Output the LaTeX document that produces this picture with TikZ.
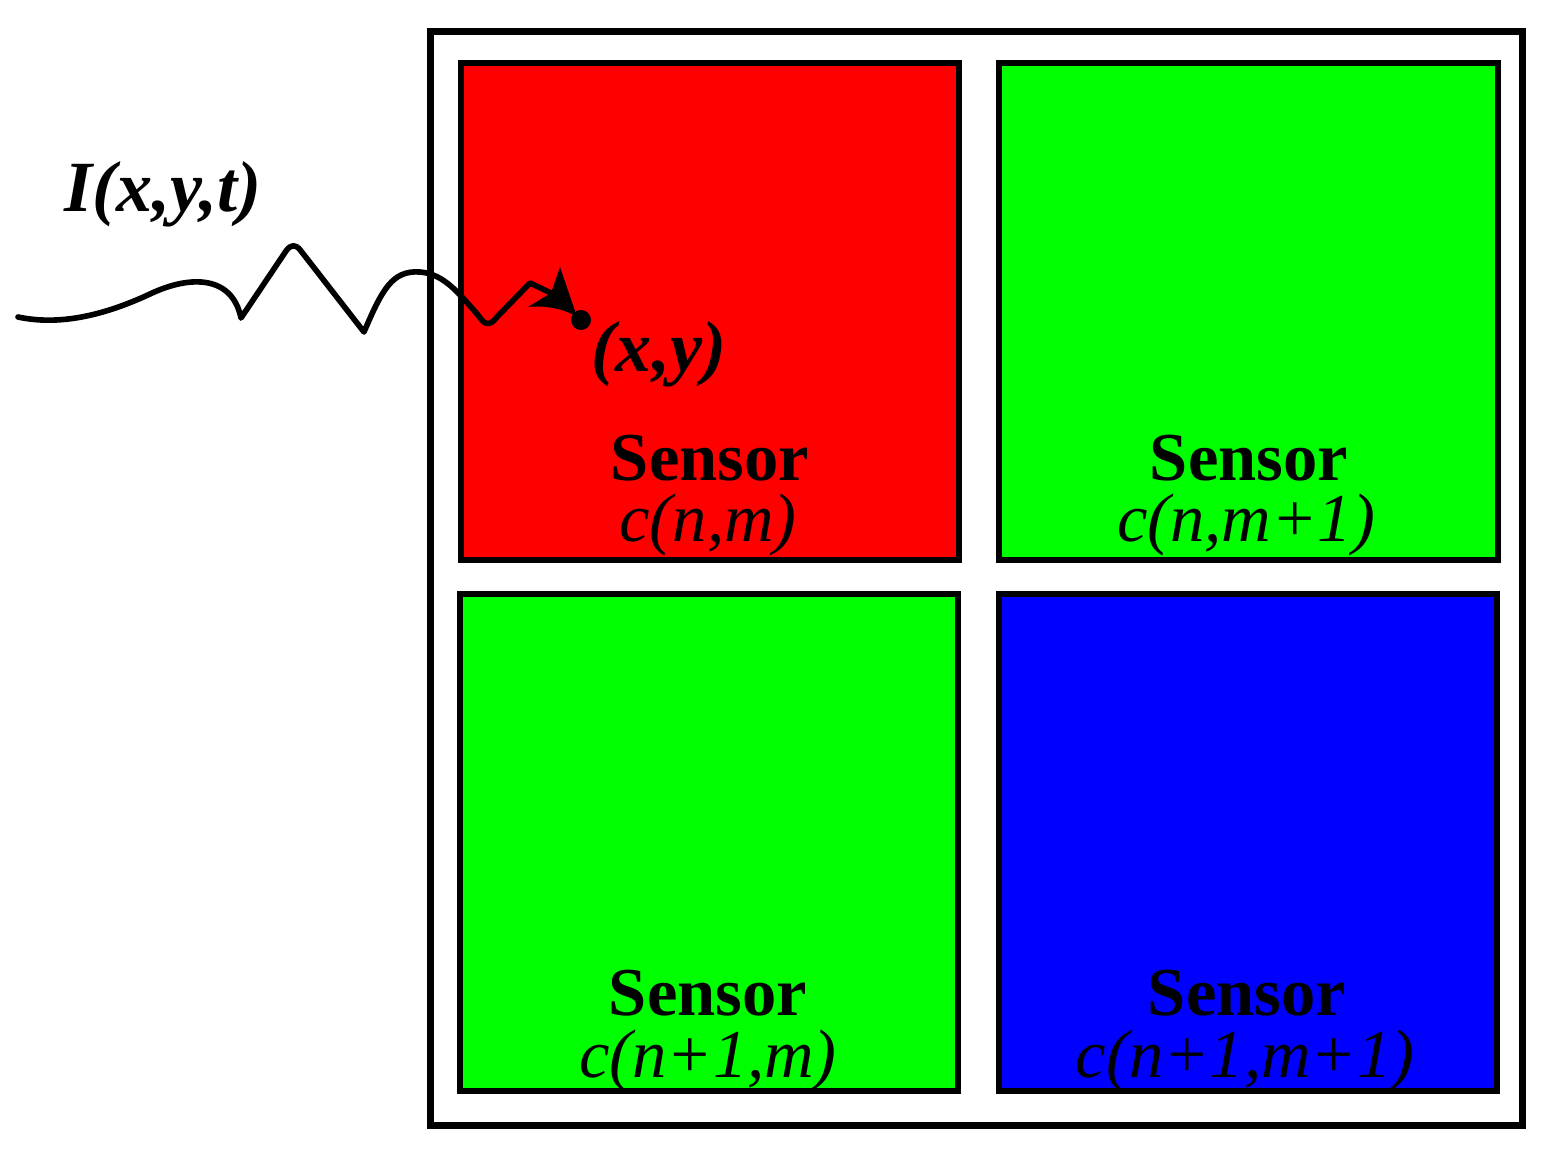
\documentclass[tikz,border=0pt]{standalone}
\usepackage{fontspec}
\setmainfont{Liberation Serif}
\definecolor{sred}{RGB}{255,0,0}
\definecolor{sgreen}{RGB}{0,255,0}
\definecolor{sblue}{RGB}{0,0,255}
\begin{document}
\begin{tikzpicture}[x=0.01cm,y=-0.01cm,
  frame/.style={draw=black, line width=2pt, inner sep=0pt, minimum width=10.91cm, minimum height=10.93cm},
  sensorbox/.style={draw=black, line width=1.7pt, inner sep=0pt, minimum width=4.98cm, minimum height=4.97cm},
  lbl/.style={font=\fontsize{19.5}{22}\selectfont\bfseries, anchor=base, inner sep=0pt},
  idx/.style={font=\fontsize{19.5}{22}\selectfont\itshape, anchor=base, inner sep=0pt},
  math/.style={font=\fontsize{20.5}{22}\selectfont\bfseries\itshape, anchor=base, inner sep=0pt},
  wave/.style={line width=1.6pt, line join=round, line cap=round}]
\useasboundingbox (0,0) rectangle (1555,1161);
% frame and sensors
\node[frame] (frame) at (976.5,578.5) {};
\node[sensorbox, fill=sred] (r) at (710,311.5) {};
\node[sensorbox, fill=sgreen] (g1) at (1248.5,311.5) {};
\node[sensorbox, fill=sgreen] (g2) at (709,842.5) {};
\node[sensorbox, fill=sblue] (b) at (1248,842.5) {};
% labels
\node[lbl] (s1) at (710,480) {Sensor};
\node[idx] (c1) at (708,541) {c(n,m)};
\node[lbl] (s2) at (1249,480) {Sensor};
\node[idx] (c2) at (1246,541) {c(n,m+1)};
\node[lbl] (s3) at (708,1015) {Sensor};
\node[idx] (c3) at (708,1077) {c(n+1,m)};
\node[lbl] (s4) at (1247,1015) {Sensor};
\node[idx] (c4) at (1245,1077) {c(n+1,m+1)};
\node[math] (I) at (163,212) {I(x,y,t)};
% point
\node[circle, fill=black, inner sep=0pt, minimum size=0.2cm] (pt) at (581,320) {};
\node[math] (xy) at (659,372) {(x,y)};
% wave
\coordinate (src) at (18,317);
\coordinate (notch) at (551,293);
\draw[wave] (src) .. controls (60,326) and (105,315) .. (150,294)
  .. controls (190,275) and (232,275) .. (241,318)
  -- (286,251) .. controls (291,244) and (296,244) .. (301,251)
  -- (364,332) .. controls (382,290) and (392,270) .. (420,272)
  .. controls (445,274) and (460,295) .. (478,315)
  .. controls (485,326) and (490,326) .. (497,317)
  -- (530,283) -- (notch);
\fill (577,317) -- (560,267) -- (notch) -- (528,307)
  .. controls (545,305) and (565,309) .. (577,317) -- cycle;
\end{tikzpicture}
\end{document}
